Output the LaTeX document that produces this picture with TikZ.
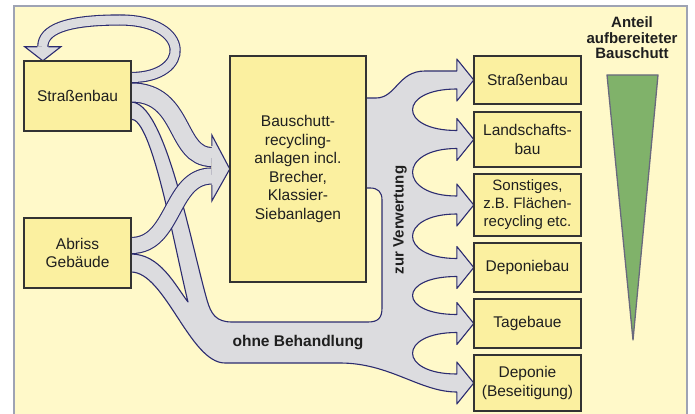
\documentclass[tikz,border=0pt]{standalone}
\usepackage{fontspec}
\setmainfont{Liberation Sans}
\usetikzlibrary{calc}
\definecolor{bg}{RGB}{255,249,201}
\definecolor{boxy}{RGB}{251,240,160}
\definecolor{flowg}{RGB}{220,220,223}
\definecolor{navy}{RGB}{44,44,112}
\definecolor{frameg}{RGB}{158,163,180}
\definecolor{trig}{RGB}{128,178,106}
\definecolor{trib}{RGB}{105,105,125}
\tikzset{ kbox/.style = { rectangle
                        , draw         = black!80
                        , fill         = boxy
                        , line width   = 1.3pt
                        , align        = center
                        , inner sep    = 0pt
                        , minimum width = 107pt
                        },
          flow/.style = { draw       = navy
                        , fill       = flowg
                        , line width = 1.1pt
                        , line join  = round
                        },
          band/.style = { draw            = navy
                        , line width      = 1.1pt
                        , double          = flowg
                        , double distance = #1
                        },
          barb/.style = { draw       = navy
                        , line width = 1.1pt
                        , line join  = miter
                        },
          lbl/.style  = { font = \bfseries\fontsize{15}{15.5}\selectfont
                        , align = center
                        }
        }
\begin{document}
\begin{tikzpicture}[x=1pt, y=-1pt, font=\fontsize{15.5}{18.5}\selectfont, text=black!88]
      \useasboundingbox (0,0) rectangle (695,414);
      \fill[bg] (14,6) rectangle (687,414);
      \draw[frameg, line width=1.5pt] (14,414) -- (14,6) -- (687,6) -- (687,414);

      % boxes (placed first, drawn again on top at the end)
      \path (77.5,96)  node[minimum height=70pt, minimum width=107pt] (sb)  {}
            (77.5,253) node[minimum height=70pt, minimum width=107pt] (ab)  {}
            (298,169)  node[minimum height=226pt, minimum width=136pt] (rec) {};
      \path (527.5,80)    node[minimum height=48pt, minimum width=107pt] (z1) {}
            (527.5,139.5) node[minimum height=55pt, minimum width=107pt] (z2) {}
            (527.5,205)   node[minimum height=62pt, minimum width=107pt] (z3) {}
            (527.5,267.5) node[minimum height=49pt, minimum width=107pt] (z4) {}
            (527.5,323.5) node[minimum height=49pt, minimum width=107pt] (z5) {}
            (527.5,383)   node[minimum height=56pt, minimum width=107pt] (z6) {};

      % ohne Behandlung + zur Verwertung
      \draw[flow] (366,98) -- (376,98) .. controls (396,98) and (398,71) .. (425,71)
          \foreach \a/\b in {z1/z2, z2/z3, z3/z4, z4/z5, z5/z6} {
            -- ($(\a.west)+(-17,-9)$) -- ($(\a.west)+(-17,-21)$) -- (\a.west)
            -- ($(\a.west)+(-17,21)$) -- ($(\a.west)+(-17,9)$)
            .. controls +(-59,0) and +(-59,0) .. ($(\b.west)+(-17,-9)$)
          }
          -- ($(z6.west)+(-17,-21)$) -- (z6.west) -- ($(z6.west)+(-17,21)$) -- ($(z6.west)+(-17,9)$)
          .. controls (420,392) and (390,363) .. (340,363) -- (225,363)
          .. controls (190,363) and (165,272) .. (131,272) -- (131,254)
          .. controls (160,254) and (175,285) .. (188,302)
          .. controls (173,240) and (152,119) .. (131,119) -- (131,102)
          .. controls (165,102) and (190,240) .. (207,300)
          .. controls (211,314) and (216,322) .. (232,322) -- (368,322)
          .. controls (378,322) and (382,318) .. (382,308) -- (382,200)
          .. controls (382,192) and (378,188) .. (370,188) -- (366,188) -- cycle;

      % into the recycling plant
      \coordinate (rin) at ($(rec.west)+(-18,0)$);
      \draw[band=18] ($(sb.east)+(0,-3.5)$) .. controls +(54,0) and +(-37,0) .. ($(rin)+(0,-12)$);
      \draw[band=15] ($(ab.east)+(0,-7.5)$) .. controls +(44,0) and +(-42,0) .. ($(rin)+(0,7)$);
      \fill[flowg] ($(rin)+(0,-23)$) -- ($(rin)+(0,-34)$) -- (rec.west) -- ($(rin)+(0,32)$) -- ($(rin)+(0,16)$) -- cycle;
      \draw[barb] ($(rin)+(0,-23)$) -- ($(rin)+(0,-34)$) -- (rec.west) -- ($(rin)+(0,32)$) -- ($(rin)+(0,16)$);

      % back into road building
      \coordinate (lp) at ($(sb.north west)+(19,-14)$);
      \draw[band=9] ($(sb.east)+(0,-18.5)$) .. controls +(60,0) and +(72,0) .. (120,20)
                    .. controls +(-55,0) and +(0,-17) .. (lp);
      \fill[flowg] ($(lp)+(-5.5,0)$) -- ($(lp)+(-18,0)$) -- ($(sb.north west)+(19,0)$) -- ($(lp)+(18,0)$) -- ($(lp)+(5.5,0)$) -- cycle;
      \draw[barb] ($(lp)+(-5.5,0)$) -- ($(lp)+(-18,0)$) -- ($(sb.north west)+(19,0)$) -- ($(lp)+(18,0)$) -- ($(lp)+(5.5,0)$);

      % boxes
      \node[kbox, minimum height=70pt] at (sb)  {Straßenbau};
      \node[kbox, minimum height=70pt] at (ab)  {Abriss\\Gebäude};
      \node[kbox, minimum height=226pt, minimum width=136pt] at (rec)
            {Bauschutt-\\recycling-\\anlagen incl.\\Brecher,\\Klassier-\\Siebanlagen};
      \node[kbox, minimum height=48pt] at (z1) {Straßenbau};
      \node[kbox, minimum height=55pt] at (z2) {Landschafts-\\bau};
      \node[kbox, minimum height=62pt, font=\fontsize{15}{18}\selectfont] at (z3)
            {Sonstiges,\\z.B. Flächen-\\recycling etc.};
      \node[kbox, minimum height=49pt] at (z4) {Deponiebau};
      \node[kbox, minimum height=49pt] at (z5) {Tagebaue};
      \node[kbox, minimum height=56pt] at (z6) {Deponie\\(Beseitigung)};

      \node[lbl, font=\bfseries\fontsize{15.5}{16}\selectfont] (ohne) at (298,343) {ohne Behandlung};
      \node[lbl, rotate=90] (zv) at (400,220) {zur Verwertung};

      % share of processed rubble
      \node[lbl] (anteil) at (632,38) {Anteil\\aufbereiteter\\Bauschutt};
      \draw[trib, fill=trig, line width=1.3pt, line join=round] (607,75) -- (658,75) -- (633,340) -- cycle;
    \end{tikzpicture}
\end{document}
